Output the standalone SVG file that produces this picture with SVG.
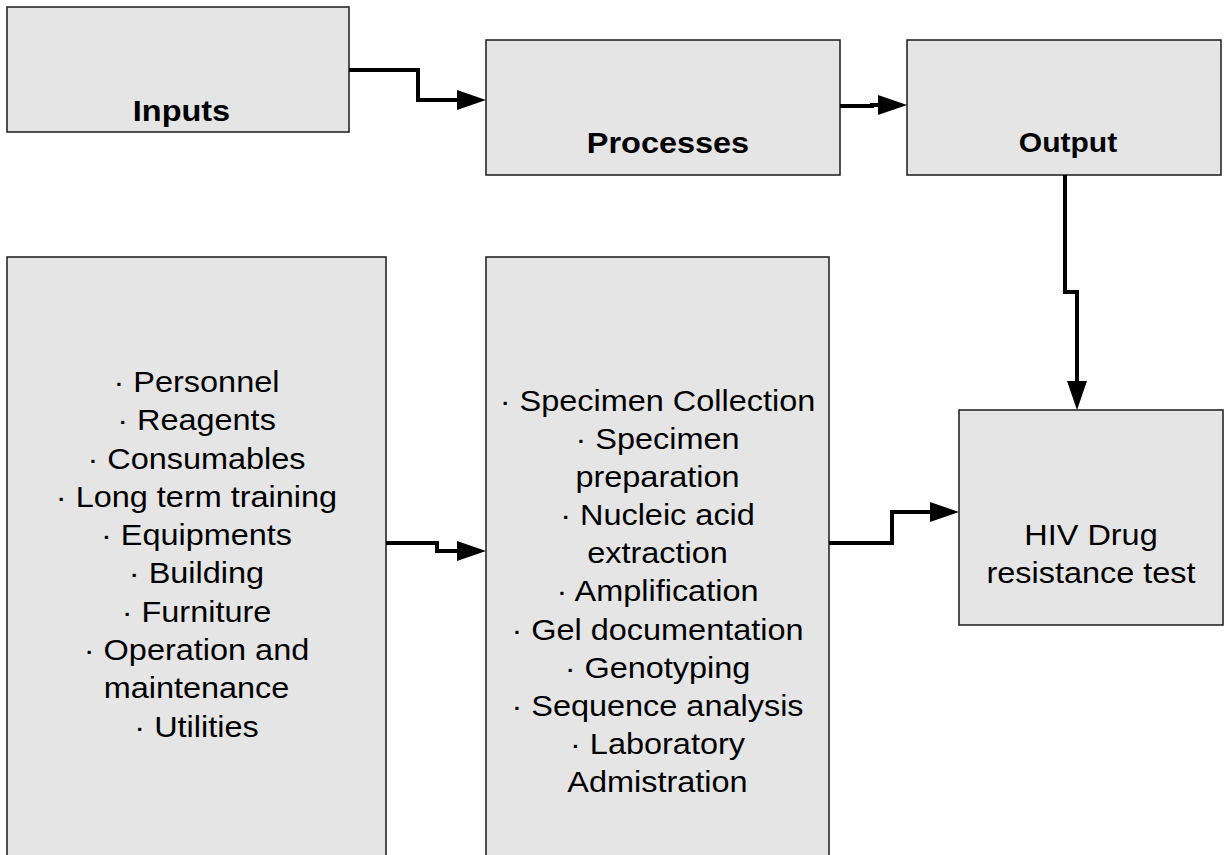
<svg xmlns="http://www.w3.org/2000/svg" width="1225" height="855" viewBox="0 0 1225 855">
<style>
.box{fill:#e5e5e5;stroke:#1a1a1a;stroke-width:1.5}
.t{font-family:"Liberation Sans",Arial,sans-serif;font-size:29.5px;fill:#000;text-anchor:middle}
.b{font-weight:bold}
.c{fill:none;stroke:#000;stroke-width:4;stroke-linejoin:miter}
</style>
<defs>
<marker id="ah" markerUnits="userSpaceOnUse" markerWidth="30" markerHeight="22" viewBox="0 0 30 22" refX="19" refY="11" orient="auto">
<path d="M0,1 L29,11 L0,21 Z" fill="#000"/>
</marker>
</defs>
<rect width="1225" height="855" fill="#fff"/>
<g id="inputs">
<rect class="box" x="7" y="7" width="342" height="125"/>
<text class="t b" transform="translate(181.5,121) scale(1.1,1)">Inputs</text>
</g>
<g id="processes">
<rect class="box" x="486" y="40" width="354" height="135"/>
<text class="t b" transform="translate(668,153) scale(1.1,1)">Processes</text>
</g>
<g id="output">
<rect class="box" x="907" y="40" width="314" height="135"/>
<text class="t b" style="font-size:27.3px" transform="translate(1068,152) scale(1.1,1)">Output</text>
</g>
<g id="inputs-list">
<rect class="box" x="7" y="257" width="379" height="605"/>
<g transform="translate(196.5,0) scale(1.1,1)">
<text class="t" x="0" y="392">· Personnel</text>
<text class="t" x="0" y="430.3">· Reagents</text>
<text class="t" x="0" y="468.6">· Consumables</text>
<text class="t" x="0" y="506.9">· Long term training</text>
<text class="t" x="0" y="545.2">· Equipments</text>
<text class="t" x="0" y="583.5">· Building</text>
<text class="t" x="0" y="621.8">· Furniture</text>
<text class="t" x="0" y="660.1">· Operation and</text>
<text class="t" x="0" y="698.4">maintenance</text>
<text class="t" x="0" y="736.7">· Utilities</text>
</g>
</g>
<g id="processes-list">
<rect class="box" x="486" y="257" width="343" height="605"/>
<g transform="translate(657.5,0) scale(1.1,1)">
<text class="t" x="0" y="411">· Specimen Collection</text>
<text class="t" x="0" y="449.1">· Specimen</text>
<text class="t" x="0" y="487.2">preparation</text>
<text class="t" x="0" y="525.3">· Nucleic acid</text>
<text class="t" x="0" y="563.4">extraction</text>
<text class="t" x="0" y="601.5">· Amplification</text>
<text class="t" x="0" y="639.6">· Gel documentation</text>
<text class="t" x="0" y="677.7">· Genotyping</text>
<text class="t" x="0" y="715.8">· Sequence analysis</text>
<text class="t" x="0" y="753.9">· Laboratory</text>
<text class="t" x="0" y="792">Admistration</text>
</g>
</g>
<g id="hiv-test">
<rect class="box" x="959" y="410" width="264" height="215"/>
<g transform="translate(1091,0) scale(1.1,1)">
<text class="t" x="0" y="545">HIV Drug</text>
<text class="t" x="0" y="583">resistance test</text>
</g>
</g>
<g id="connectors">
<path class="c" d="M349,70 H418 V100 H476" marker-end="url(#ah)"/>
<path class="c" d="M840,106 H872 V105 H897" marker-end="url(#ah)"/>
<path class="c" d="M1065,175 V292 H1077 V400" marker-end="url(#ah)"/>
<path class="c" d="M386,543 H437 V551 H476" marker-end="url(#ah)"/>
<path class="c" d="M829,543 H892 V512 H949" marker-end="url(#ah)"/>
</g>
</svg>
